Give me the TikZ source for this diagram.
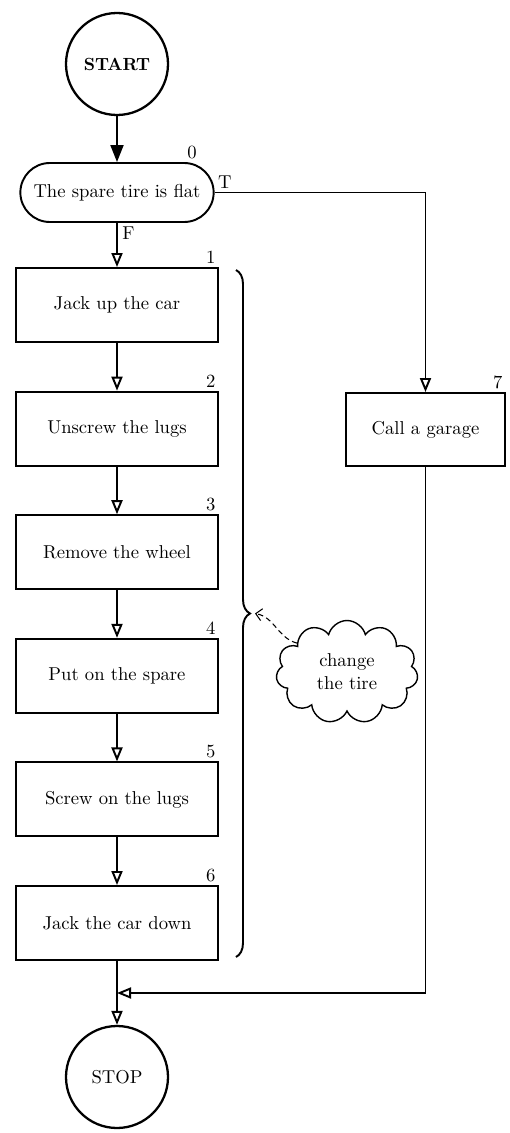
\documentclass[tikz,border=0pt]{standalone}
\usetikzlibrary{arrows.meta,calc,shapes.misc,shapes.symbols,decorations.pathreplacing}

\begin{document}
\begin{tikzpicture}[line width=1.1pt, font=\fontsize{10.6}{13}\selectfont,
    term/.style={draw, circle, minimum size=2.04cm, line width=1.3pt},
    test/.style={draw, rounded rectangle, minimum width=4.1cm, minimum height=1.18cm},
    stepbox/.style={draw, rectangle, minimum width=4.04cm, minimum height=1.48cm},
    num/.style={inner sep=1.5pt},
    flow/.style={-{Triangle[open, length=0.28cm, width=0.22cm]}}]
    \useasboundingbox (0,0) rectangle (10.18,-22.66);
    \node[term, font=\bfseries] (start) at (2.34,-1.28) {START};
    \node[test] (dec) at (2.34,-3.85) {The spare tire is flat};
    \node[num, anchor=south] (n0) at ($(dec.north)+(1.5,0)$) {0};
    \node[num, anchor=south west] (nt) at (dec.east) {T};
    \node[num, anchor=north west, xshift=1pt] (nf) at (dec.south) {F};
    \foreach \n/\txt in {1/Jack up the car, 2/Unscrew the lugs, 3/Remove the wheel, 4/Put on the spare, 5/Screw on the lugs, 6/Jack the car down} {
        \node[stepbox] (b\n) at (2.34,{-6.10-2.472*(\n-1)}) {\txt};
        \node[num, anchor=south east] (n\n) at (b\n.north east) {\n};
    }
    \node[stepbox, minimum width=3.18cm, minimum height=1.46cm] (garage) at (8.51,-8.59) {Call a garage};
    \node[num, anchor=south east] (n7) at (garage.north east) {7};
    \node[term] (stop) at (2.34,-21.54) {STOP};
    \node[draw, cloud, cloud puffs=11, cloud ignores aspect, line width=0.8pt, minimum width=2.84cm, minimum height=2.06cm, align=center] (cloud) at (6.94,-13.44) {change\\the tire};
    \coordinate (btop) at (4.72,-5.40);
    \coordinate (bbot) at (4.72,-19.14);
    \coordinate (tip) at ($(btop)!0.5!(bbot)+(0.38,0)$);
    \coordinate (join) at (2.34,-19.86);
    \draw[decorate, decoration={brace, amplitude=0.28cm}] (btop) -- (bbot);
    \draw[densely dashed, line width=0.6pt, -{Straight Barb[length=1.2mm]}] (cloud.150) to[out=165, in=-10] (tip);
    \draw[-{Triangle[length=0.34cm, width=0.26cm]}] (start) -- (dec);
    \draw[flow] (dec) -- (b1);
    \foreach \a/\b in {1/2,2/3,3/4,4/5,5/6} {\draw[flow] (b\a) -- (b\b);}
    \draw[flow] (dec.east) -| (garage.north);
    \draw[flow] (garage.south) |- (join);
    \draw[flow] (b6) -- (stop);
\end{tikzpicture}
\end{document}
